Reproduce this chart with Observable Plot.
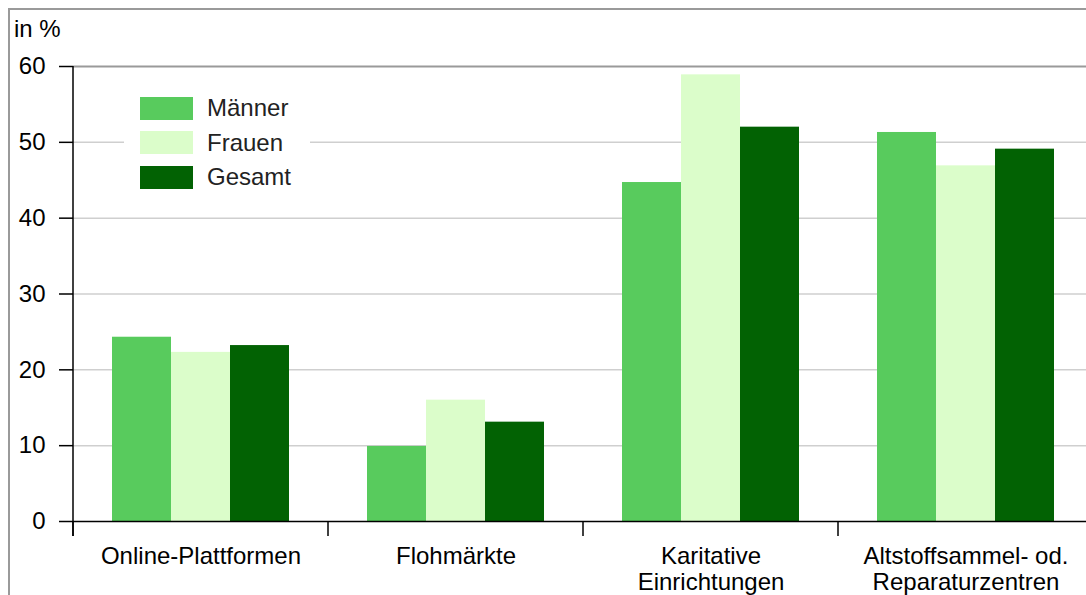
<!DOCTYPE html>
<html>
<head>
<meta charset="utf-8">
<script src="https://cdn.jsdelivr.net/npm/d3@7"></script>
<script src="https://cdn.jsdelivr.net/npm/@observablehq/plot@0.6"></script>
<style>
  html, body { margin: 0; padding: 0; background: #fff; overflow: hidden; width: 1086px; height: 595px; }
  #wrap { position: relative; width: 1086px; height: 595px; overflow: hidden; font-family: "Liberation Sans", Arial, sans-serif; }
  #frame { position: absolute; left: 8px; top: 8px; width: 1200px; height: 700px; border-left: 2px solid #9a9a9a; border-top: 2px solid #9a9a9a; box-sizing: border-box; }
  #unit { position: absolute; left: 14px; top: 15px; font-size: 24px; color: #000; }
  #chart { position: absolute; left: 0; top: 0; width: 1100px; height: 595px; }
  #chart svg { max-width: none !important; }
  #legend { position: absolute; left: 124px; top: 82px; width: 186px; height: 120px; background: #fff; }
  .item { position: absolute; left: 16px; height: 24px; display: flex; align-items: center; font-size: 24px; color: #222; }
  .sw { width: 53px; height: 23px; margin-right: 14px; }
</style>
</head>
<body>
<div id="wrap">
  <div id="frame"></div>
  <div id="chart"></div>
  <div id="unit">in %</div>
  <div id="legend"></div>
</div>
<script>
const categories = ["Online-Plattformen", "Flohmärkte", "Karitative\nEinrichtungen", "Altstoffsammel- od.\nReparaturzentren"];
const series = ["Männer", "Frauen", "Gesamt"];
const colors = ["#58cb5d", "#dbfdca", "#026203"];
const maenner = [24.3, 9.9, 44.7, 51.3];
const frauen  = [22.3, 16.0, 58.9, 46.9];
const gesamt  = [23.2, 13.1, 52.0, 49.1];
const yTicks = [0, 10, 20, 30, 40, 50, 60];

const values = [maenner, frauen, gesamt];
const data = [];
categories.forEach((c, i) => series.forEach((s, j) => data.push({cat: c, series: s, value: values[j][i]})));

const plot = Plot.plot({
  width: 1100,
  height: 595,
  marginLeft: 72,
  marginRight: 6,
  marginTop: 66,
  marginBottom: 74,
  style: {fontFamily: "'Liberation Sans', Arial, sans-serif", fontSize: "24px", color: "#000", background: "transparent", overflow: "visible", maxWidth: "none"},
  fx: {domain: categories, padding: 0, label: null},
  x: {domain: series, paddingInner: 0, paddingOuter: 0.64, axis: null},
  y: {domain: [0, 60], label: null},
  color: {domain: series, range: colors},
  marks: [
    Plot.gridY(yTicks.filter(t => t > 0 && t < 60), {stroke: "#cfcfcf", strokeOpacity: 1, strokeWidth: 1.5}),
    Plot.ruleY([60], {stroke: "#9a9a9a", strokeWidth: 2}),
    Plot.barY(data, {fx: "cat", x: "series", y: "value", fill: "series"}),
    Plot.ruleY([0], {stroke: "#000", strokeWidth: 1.5}),
    Plot.axisY({ticks: yTicks, tickSize: 14, tickPadding: 14, fontSize: 24, label: null, stroke: "#000", strokeWidth: 1.5}),
    Plot.axisFx({anchor: "bottom", tickSize: 0, tickPadding: 24, fontSize: 24, lineHeight: 1.08, label: null})
  ]
});
document.getElementById("chart").appendChild(plot);

// axis line and category boundary ticks, from the library's scales
const fx = plot.scale("fx");
const y = plot.scale("y");
const y0 = y.apply(0);
const svg = d3.select(plot);
const g = svg.append("g").attr("stroke", "#000").attr("stroke-width", 1.5);
const xLeft = fx.apply(categories[0]);
g.append("line").attr("x1", xLeft).attr("x2", xLeft).attr("y1", y.apply(60)).attr("y2", y0 + 15);
const bounds = categories.map(c => fx.apply(c)).concat([fx.apply(categories[categories.length - 1]) + fx.bandwidth]);
bounds.forEach(b => g.append("line").attr("x1", b).attr("x2", b).attr("y1", y0).attr("y2", y0 + 15));

// legend
const legend = document.getElementById("legend");
series.forEach((s, i) => {
  const it = document.createElement("div");
  it.className = "item";
  it.style.top = (14 + i * 34.5) + "px";
  it.innerHTML = `<div class="sw" style="background:${colors[i]}"></div><span>${s}</span>`;
  legend.appendChild(it);
});
</script>
</body>
</html>
